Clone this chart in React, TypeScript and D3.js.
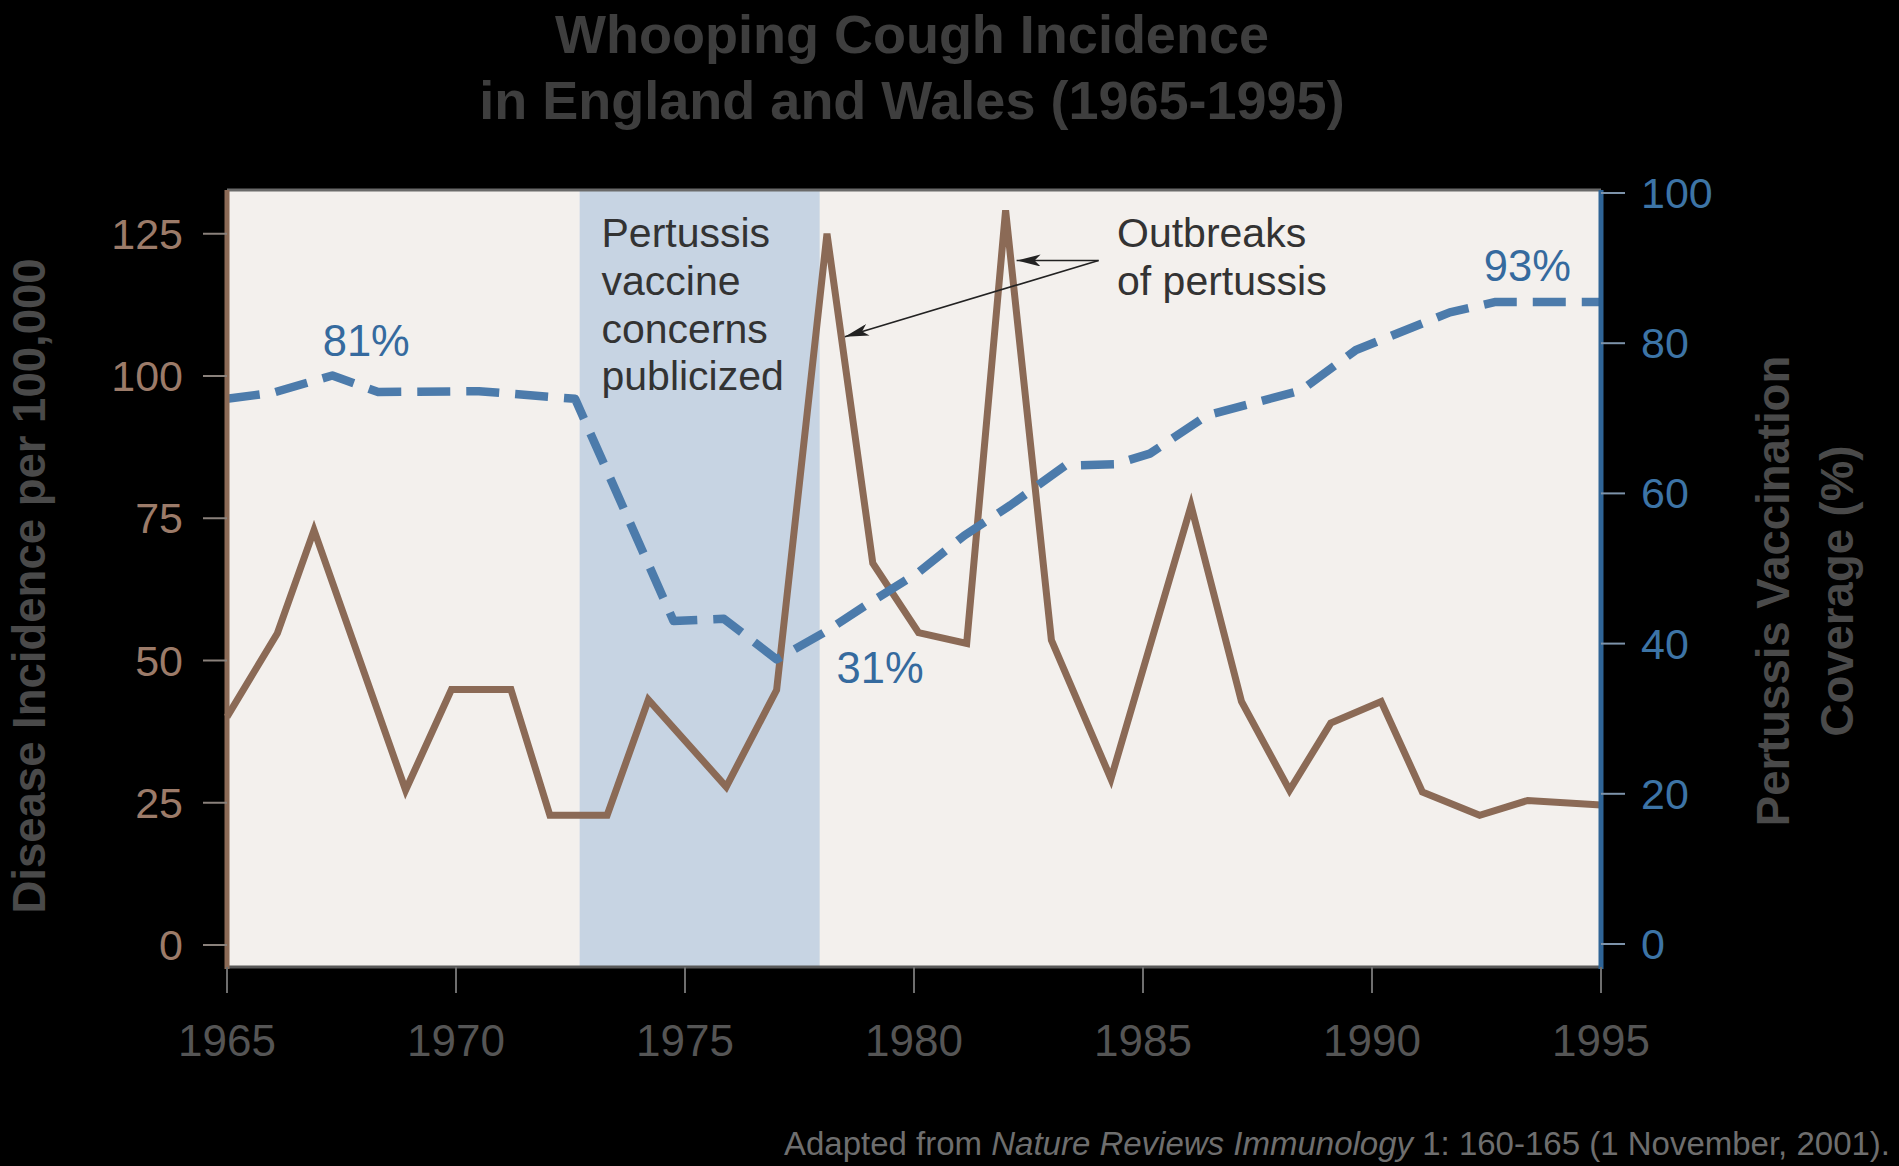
import React from 'react';
import * as d3 from 'd3';

const W = 1899;
const H = 1166;
const FONT = '"Liberation Sans", Arial, Helvetica, sans-serif';

// Incidence (per 100,000) — brown solid line, left axis
const incidenceYears = [1965.0, 1966.1, 1966.9, 1968.9, 1969.9, 1971.2, 1972.05, 1973.3, 1974.2, 1975.9, 1977.0, 1978.1, 1979.1, 1980.1, 1981.15, 1982.0, 1983.0, 1984.3, 1986.05, 1987.15, 1988.2, 1989.1, 1990.2, 1991.1, 1992.35, 1993.4, 1995.0];
const incidence = [40.1, 54.8, 72.9, 27.2, 44.9, 44.9, 22.8, 22.8, 43.1, 27.8, 44.8, 125.0, 67.1, 54.9, 53.0, 129.1, 53.6, 29.2, 77.2, 42.8, 27.2, 39.0, 42.8, 26.9, 22.8, 25.4, 24.6];

// Vaccination coverage (%) — blue dashed line, right axis
const coverageYears = [1965.0, 1966.0, 1967.3, 1968.3, 1970.5, 1972.6, 1974.75, 1975.85, 1977.0, 1978.1, 1979.1, 1980.1, 1981.1, 1982.1, 1983.3, 1984.4, 1985.15, 1986.4, 1988.45, 1989.65, 1991.7, 1992.7, 1995.0];
const coverage = [72.6, 73.4, 75.7, 73.5, 73.6, 72.6, 43.0, 43.3, 37.9, 41.7, 45.7, 49.5, 54.4, 58.4, 63.7, 63.9, 65.3, 70.4, 73.7, 79.1, 84.1, 85.5, 85.5];

const xTicks = [1965, 1970, 1975, 1980, 1985, 1990, 1995];
const leftTicks = [0, 25, 50, 75, 100, 125];
const rightTicks = [0, 20, 40, 60, 80, 100];

const bandRange = [1972.7, 1977.94];
const titleLines = ['Whooping Cough Incidence', 'in England and Wales (1965-1995)'];
const concernLines = ['Pertussis', 'vaccine', 'concerns', 'publicized'];
const outbreakLines = ['Outbreaks', 'of pertussis'];
const pctLabels = [
  { text: '81%', year: 1967.09, pct: 78.3 },
  { text: '31%', year: 1978.31, pct: 34.7 },
  { text: '93%', year: 1992.44, pct: 88.3 },
];
// arrows in data units (year, incidence)
const arrowFrom = { year: 1984.03, val: 120.3 };
const arrowTips = [
  { year: 1982.24, val: 120.3 },
  { year: 1978.49, val: 106.9 },
];

export default function App() {
  const plot = { left: 227, right: 1601, top: 190, bottom: 967 };
  const x = d3.scaleLinear().domain([1965, 1995]).range([plot.left, plot.right]);
  const yL = d3.scaleLinear().domain([0, 125]).range([945, 233.75]);
  const yR = d3.scaleLinear().domain([0, 100]).range([944, 193]);

  const incPath = d3.line<number>()
    .x((_, i) => x(incidenceYears[i]))
    .y((d) => yL(d))(incidence) || '';
  const covPath = d3.line<number>()
    .x((_, i) => x(coverageYears[i]))
    .y((d) => yR(d))(coverage) || '';

  const brown = '#8b6a56';
  const blue = '#4c7bab';
  const blueText = '#356a9e';

  return (
    <svg width={W} height={H} style={{ position: 'absolute', left: 0, top: 0 }} fontFamily={FONT}>
      <defs>
        <marker id="ah" viewBox="0 0 24 12" refX="24" refY="6" markerWidth="24" markerHeight="12" markerUnits="userSpaceOnUse" orient="auto">
          <path d="M0,0 L24,6 L0,12 L6,6 Z" fill="#222" />
        </marker>
      </defs>
      <rect x={0} y={0} width={W} height={H} fill="#000" />

      {/* title */}
      {titleLines.map((t, i) => (
        <text key={t} x={912} y={53 + i * 65.5} textAnchor="middle" fontSize={54} fontWeight="bold" fill="#3e3e3e">{t}</text>
      ))}

      {/* plot background */}
      <rect x={plot.left} y={plot.top} width={plot.right - plot.left} height={plot.bottom - plot.top} fill="#f3f0ed" />
      <rect x={x(bandRange[0])} y={plot.top} width={x(bandRange[1]) - x(bandRange[0])} height={plot.bottom - plot.top} fill="#c7d4e3" />
      <line x1={plot.left} x2={plot.right} y1={plot.top} y2={plot.top} stroke="#6a6a6a" strokeWidth={3} />
      <line x1={plot.left} x2={plot.right} y1={plot.bottom} y2={plot.bottom} stroke="#585858" strokeWidth={3} />

      {/* data lines */}
      <path d={incPath} fill="none" stroke={brown} strokeWidth={7} strokeLinejoin="miter" />
      <path d={covPath} fill="none" stroke={blue} strokeWidth={8.5} strokeDasharray="33 16" strokeLinejoin="round" />

      {/* left axis */}
      <line x1={plot.left} x2={plot.left} y1={plot.top} y2={plot.bottom + 2} stroke={brown} strokeWidth={5} />
      {leftTicks.map((t) => (
        <g key={'l' + t}>
          <line x1={203} x2={plot.left} y1={yL(t)} y2={yL(t)} stroke="#8a817b" strokeWidth={2} />
          <text x={183} y={yL(t) + 15} textAnchor="end" fontSize={43} fill="#9c7b69">{t}</text>
        </g>
      ))}

      {/* right axis */}
      <line x1={plot.right} x2={plot.right} y1={plot.top} y2={plot.bottom + 2} stroke="#2f6496" strokeWidth={5} />
      {rightTicks.map((t) => (
        <g key={'r' + t}>
          <line x1={plot.right} x2={1625} y1={yR(t)} y2={yR(t)} stroke="#7d93aa" strokeWidth={2} />
          <text x={1641} y={yR(t) + 15} textAnchor="start" fontSize={43} fill="#3d74a6">{t}</text>
        </g>
      ))}

      {/* x axis */}
      {xTicks.map((t) => (
        <g key={'x' + t}>
          <line x1={x(t)} x2={x(t)} y1={plot.bottom} y2={993} stroke="#6e6e6e" strokeWidth={2} />
          <text x={x(t)} y={1056} textAnchor="middle" fontSize={44} fill="#555">{t}</text>
        </g>
      ))}

      {/* axis titles */}
      <text transform={`translate(45,586) rotate(-90)`} textAnchor="middle" fontSize={45.5} fontWeight="bold" fill="#4a4a4a">Disease Incidence per 100,000</text>
      <text transform={`translate(1789,591) rotate(-90)`} textAnchor="middle" fontSize={45.5} fontWeight="bold" fill="#4a4a4a">Pertussis Vaccination</text>
      <text transform={`translate(1853,591) rotate(-90)`} textAnchor="middle" fontSize={45.5} fontWeight="bold" fill="#4a4a4a">Coverage (%)</text>

      {/* annotations */}
      {concernLines.map((t, i) => (
        <text key={t} x={601.5} y={247 + i * 47.8} fontSize={41} fill="#333">{t}</text>
      ))}
      {outbreakLines.map((t, i) => (
        <text key={t} x={1117} y={247 + i * 47.8} fontSize={41} fill="#333">{t}</text>
      ))}
      {arrowTips.map((a, i) => (
        <line key={'a' + i} x1={x(arrowFrom.year)} y1={yL(arrowFrom.val)} x2={x(a.year)} y2={yL(a.val)} stroke="#222" strokeWidth={1.6} markerEnd="url(#ah)" />
      ))}
      {pctLabels.map((p) => (
        <text key={p.text} x={x(p.year)} y={yR(p.pct)} fontSize={43.5} fill={blueText}>{p.text}</text>
      ))}

      {/* footnote */}
      <text x={1890} y={1155} textAnchor="end" fontSize={33} fill="#6e6e6e">
        Adapted from <tspan fontStyle="italic">Nature Reviews Immunology</tspan> 1: 160-165 (1 November, 2001).
      </text>
    </svg>
  );
}
